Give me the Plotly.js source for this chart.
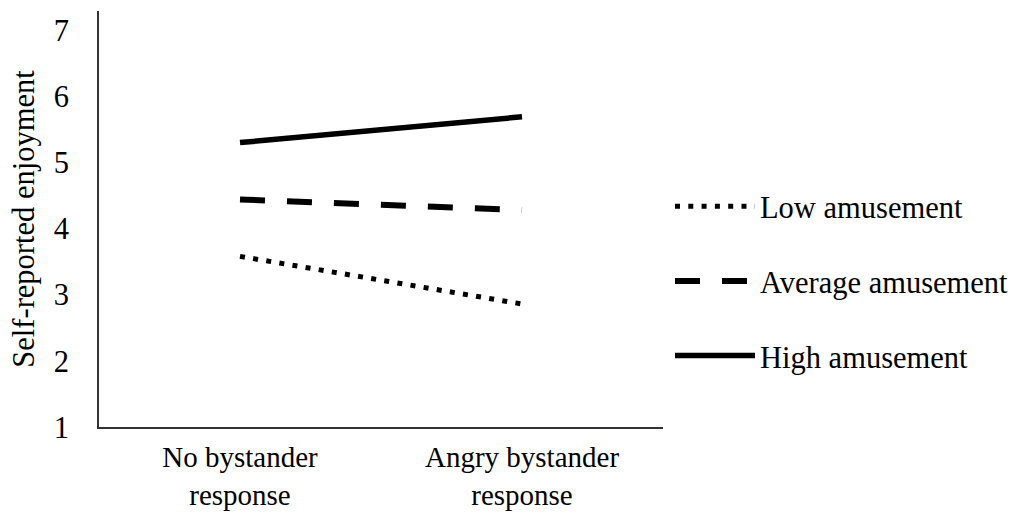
<!DOCTYPE html>
<html>
<head>
<meta charset="utf-8">
<script src="https://cdn.plot.ly/plotly-3.0.1.min.js"></script>
<style>html,body{margin:0;padding:0;background:#fff;}#chart{width:1026px;height:517px;}</style>
</head>
<body>
<div id="chart"></div>
<script>
const categories = ["No bystander<br>response", "Angry bystander<br>response"];
const lowAmusement = [3.58, 2.86];
const averageAmusement = [4.44, 4.28];
const highAmusement = [5.30, 5.69];
const seriesNames = ["Low amusement", "Average amusement", "High amusement"];
const yTicks = [1, 2, 3, 4, 5, 6, 7];

const font = {family: "Liberation Serif, Times New Roman, serif", size: 30.5, color: "#000"};
const xFont = {family: "Liberation Serif, Times New Roman, serif", size: 29, color: "#000"};

const traces = [
  {x: categories, y: lowAmusement, name: seriesNames[0], legendgroup: "a", mode: "lines",
   line: {color: "#000", width: 5, dash: "5px,8.3px"}},
  {x: categories, y: averageAmusement, name: seriesNames[1], legendgroup: "b", mode: "lines",
   line: {color: "#000", width: 6, dash: "25px,22px"}},
  {x: categories, y: highAmusement, name: seriesNames[2], legendgroup: "c", mode: "lines",
   line: {color: "#000", width: 5.5}}
];

const layout = {
  width: 1026, height: 517,
  margin: {l: 99, r: 363, t: 11, b: 90},
  paper_bgcolor: "#fff", plot_bgcolor: "#fff",
  font: font,
  showlegend: true,
  legend: {x: 1.0124, xanchor: "left", y: 0.351, yanchor: "middle", itemwidth: 80,
           tracegroupgap: 32, traceorder: "grouped", font: font, bgcolor: "rgba(0,0,0,0)"},
  xaxis: {type: "category", range: [-0.5, 1.5], showgrid: false, zeroline: false,
          showline: true, linecolor: "#333", linewidth: 2, ticks: "", ticklabelstandoff: 3,
          tickfont: xFont, fixedrange: true},
  yaxis: {range: [1, 7.29], tickvals: yTicks, showgrid: false, zeroline: false,
          showline: true, linecolor: "#333", linewidth: 2, ticks: "", ticklabelstandoff: 22,
          tickfont: font, fixedrange: true,
          title: {text: "Self-reported enjoyment", font: font, standoff: 10}}
};

Plotly.newPlot("chart", traces, layout, {displayModeBar: false, staticPlot: true});
</script>
</body>
</html>
